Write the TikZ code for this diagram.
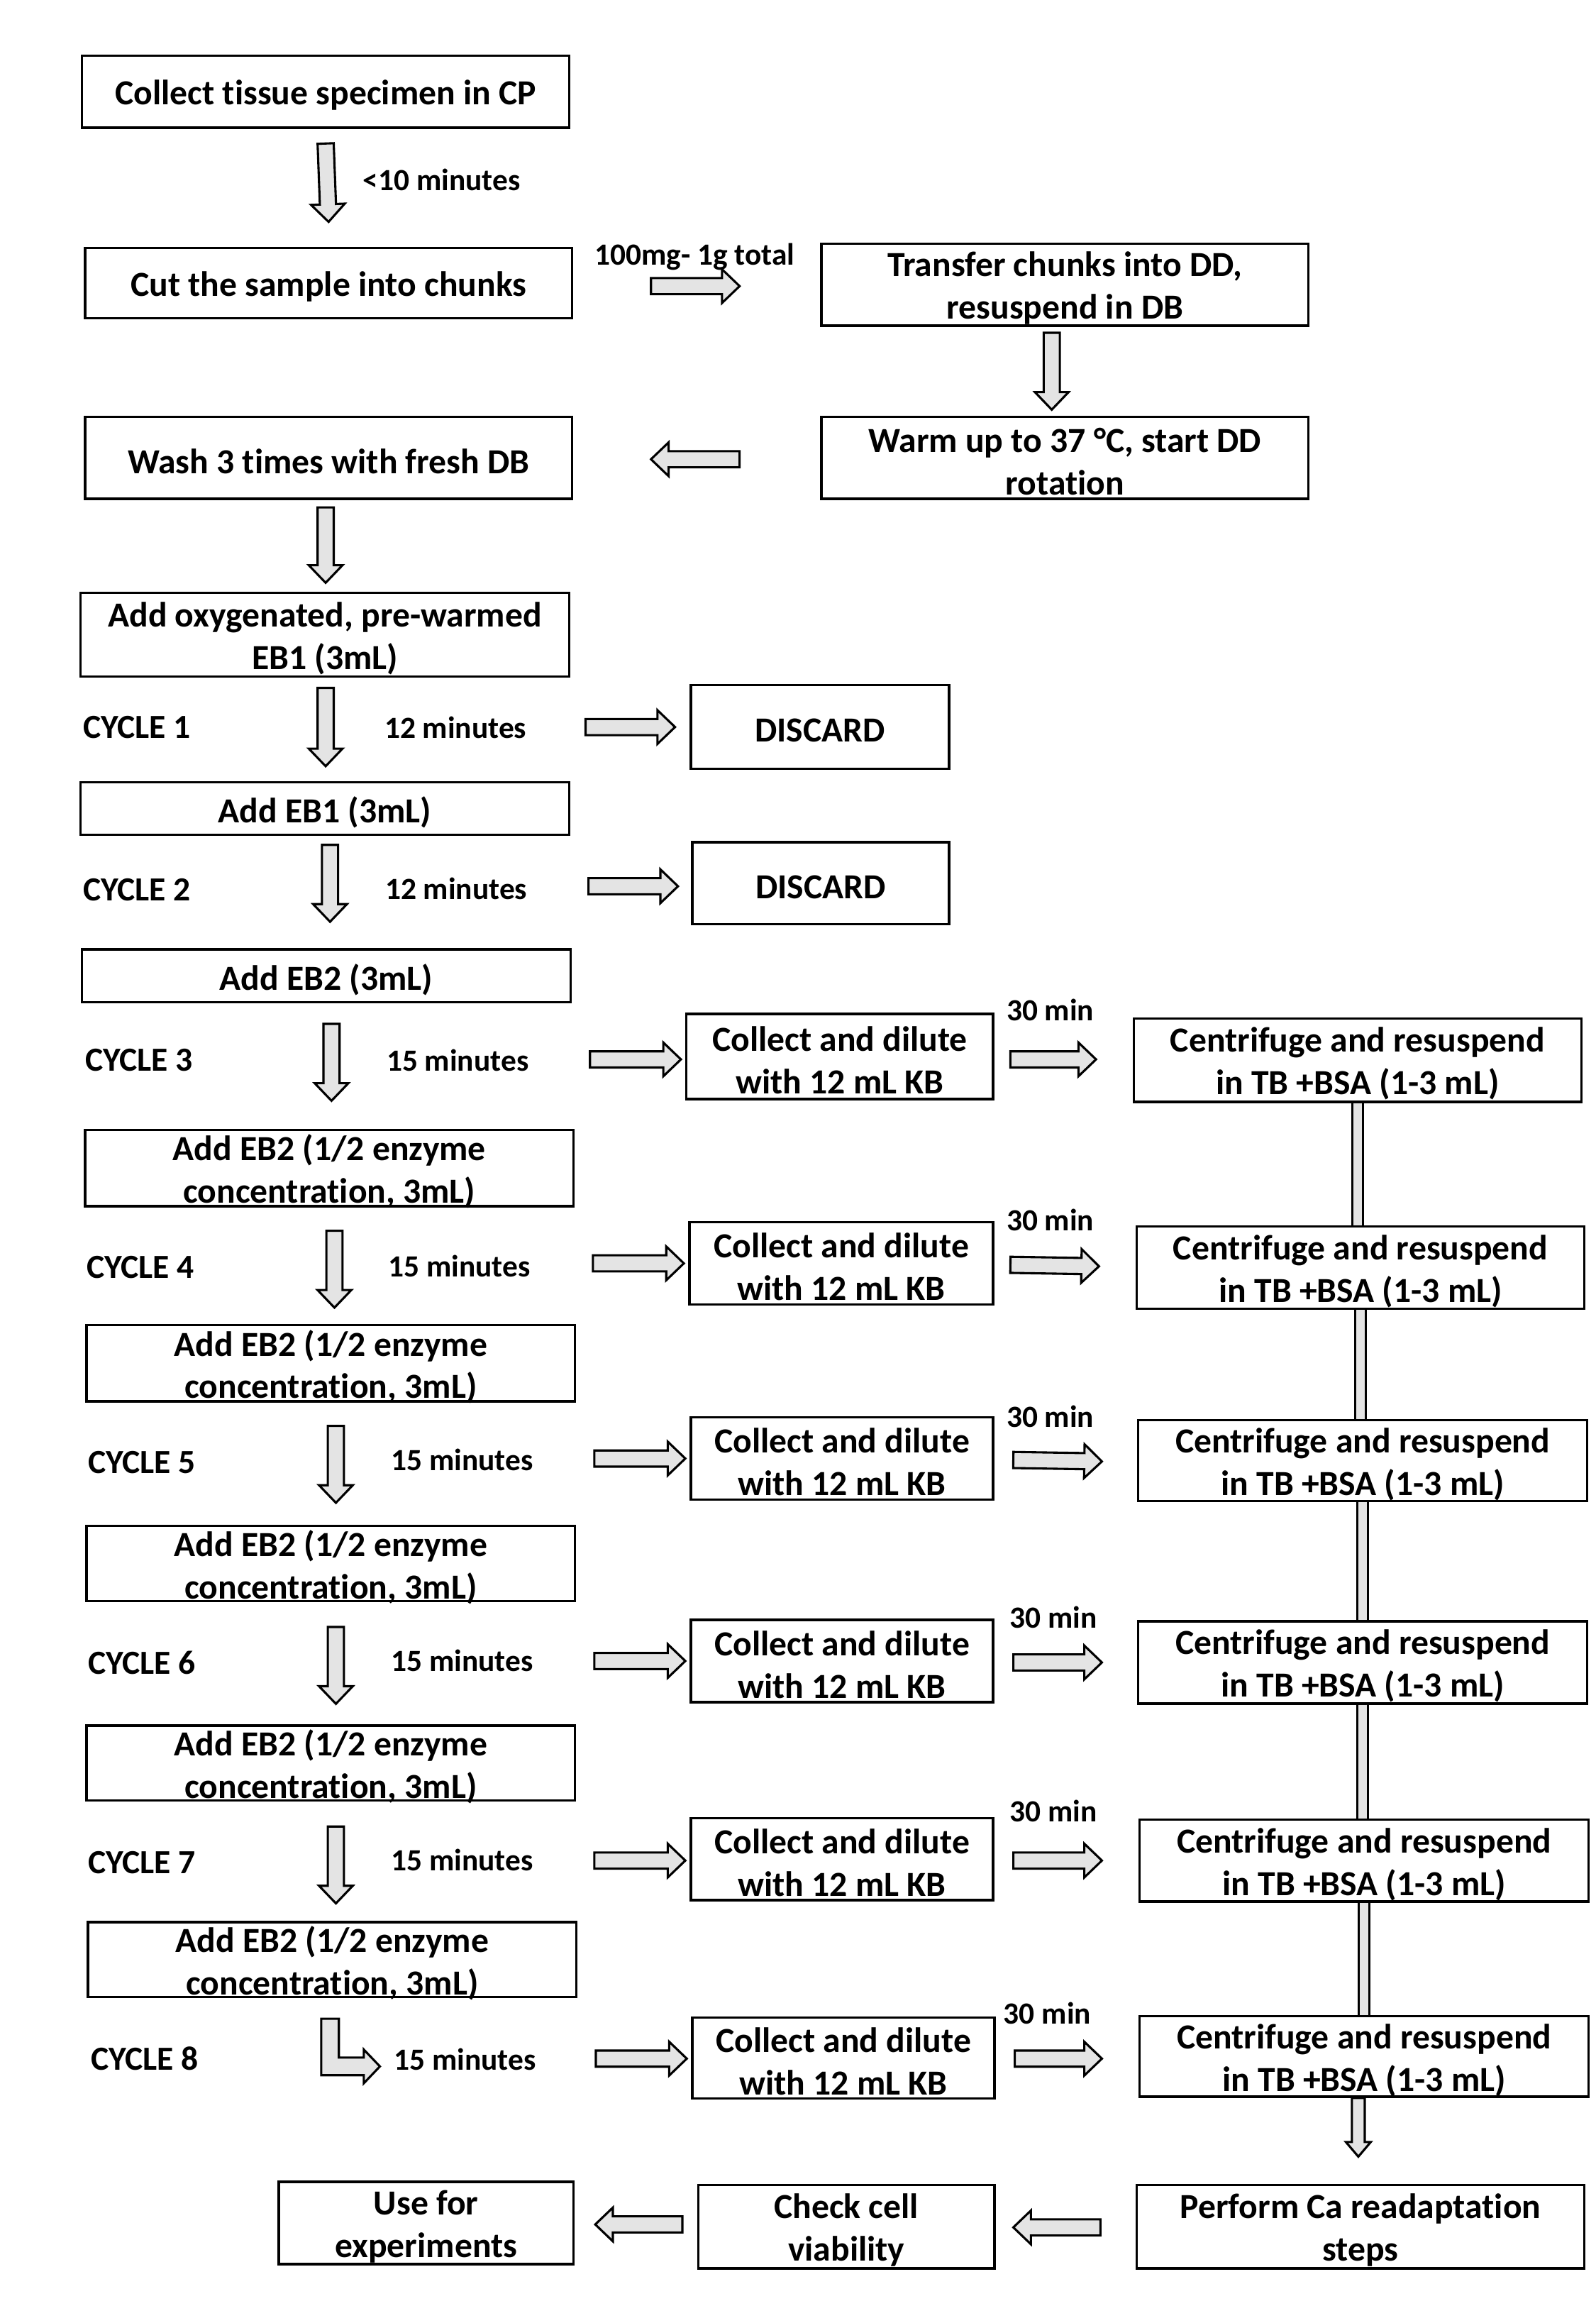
\documentclass[tikz,border=0pt]{standalone}
\usepackage{fontspec}
\setmainfont{Carlito}[Ligatures=NoCommon]
\usetikzlibrary{calc}
\definecolor{arrfill}{HTML}{E4E4E4}
\tikzset{
  box/.style={draw, line width=1.6pt, rectangle, inner sep=0pt},
  boxtext/.style={align=center, inner sep=0pt, font=\bfseries\fontsize{24}{29}\selectfont},
  lbl/.style={inner sep=0pt, anchor=base, font=\bfseries\fontsize{21}{25}\selectfont},
  cyc/.style={inner sep=0pt, anchor=base west, font=\bfseries\fontsize{23}{27}\selectfont},
  barr/.style={draw, line width=1.5pt, fill=arrfill, line join=miter},
  vbar/.style={draw, line width=1.4pt, double=arrfill, double distance=6pt},
}
\newcommand\bx[6]{\node[box, minimum width={#4-#2}, minimum height={#5-#3}] (#1) at ({(#2+#4)/2},{(#3+#5)/2}) {};
  \node[boxtext] (#1-t) at ($(#1.center)+(0,2.5)$) {#6};}
\def\sw{5.5pt}\def\hw{11.5pt}\def\hl{12pt}
\newcommand\blk[3][]{%
  \coordinate (bs) at #2; \coordinate (be) at #3;
  \coordinate (bh) at ($(be)!\hl!(bs)$);
  \draw[barr,#1] ($(bs)!\sw!90:(be)$) -- ($(bh)!\sw!-90:(bs)$) -- ($(bh)!\hw!-90:(bs)$) -- (be)
    -- ($(bh)!\hw!90:(bs)$) -- ($(bh)!\sw!90:(bs)$) -- ($(bs)!\sw!-90:(be)$) -- cycle;}
\begin{document}
\begin{tikzpicture}[x=1pt,y=-1pt]
\useasboundingbox[fill=white] (0,0) rectangle (1088,1571.6);
% boxes
\bx{c1}{56}{38}{388}{87}{Collect tissue specimen in CP}
\bx{c2}{58}{169}{390}{217}{Cut the sample into chunks}
\bx{t1}{560}{166}{892}{222}{Transfer chunks into DD,\\resuspend in DB}
\bx{t2}{560}{284}{892}{340}{Warm up to 37 °C, start DD\\rotation}
\bx{w1}{58}{284}{390}{340}{Wash 3 times with fresh DB}
\bx{e1}{55}{404}{388}{461}{Add oxygenated, pre-warmed\\EB1 (3mL)}
\bx{d1}{471}{467}{647}{524}{DISCARD}
\bx{e2}{55}{533}{388}{569}{Add EB1 (3mL)}
\bx{d2}{472}{574}{647}{630}{DISCARD}
\bx{e3}{56}{647}{389}{683}{Add EB2 (3mL)}
\bx{k3}{468}{691}{677}{749}{Collect and dilute\\with 12 mL KB}
\bx{r3}{773}{694}{1078}{751}{Centrifuge and resuspend\\in TB +BSA (1-3 mL)}
\bx{e4}{58}{770}{391}{822}{Add EB2 (1/2 enzyme\\concentration, 3mL)}
\bx{k4}{470}{833}{677}{889}{Collect and dilute\\with 12 mL KB}
\bx{r4}{775}{836}{1080}{892}{Centrifuge and resuspend\\in TB +BSA (1-3 mL)}
\bx{e5}{59}{903}{392}{955}{Add EB2 (1/2 enzyme\\concentration, 3mL)}
\bx{k5}{471}{966}{677}{1022}{Collect and dilute\\with 12 mL KB}
\bx{r5}{776}{968}{1082}{1023}{Centrifuge and resuspend\\in TB +BSA (1-3 mL)}
\bx{e6}{59}{1040}{392}{1091}{Add EB2 (1/2 enzyme\\concentration, 3mL)}
\bx{k6}{471}{1104}{677}{1160}{Collect and dilute\\with 12 mL KB}
\bx{r6}{776}{1105}{1082}{1161}{Centrifuge and resuspend\\in TB +BSA (1-3 mL)}
\bx{e7}{59}{1176}{392}{1227}{Add EB2 (1/2 enzyme\\concentration, 3mL)}
\bx{k7}{471}{1239}{677}{1295}{Collect and dilute\\with 12 mL KB}
\bx{r7}{777}{1240}{1083}{1296}{Centrifuge and resuspend\\in TB +BSA (1-3 mL)}
\bx{e8}{60}{1310}{393}{1361}{Add EB2 (1/2 enzyme\\concentration, 3mL)}
\bx{k8}{472}{1375}{678}{1430}{Collect and dilute\\with 12 mL KB}
\bx{r8}{777}{1374}{1083}{1429}{Centrifuge and resuspend\\in TB +BSA (1-3 mL)}
\bx{u}{190}{1487}{391}{1543}{Use for\\experiments}
\bx{v}{476}{1489}{678}{1546}{Check cell\\viability}
\bx{p}{775}{1489}{1080}{1546}{Perform Ca readaptation\\steps}
% labels
\node[lbl] (l0) at (301,130) {<10 minutes};
\node[lbl] (l00) at (473.5,180.5) {100mg- 1g total};
\node[cyc] (cy1) at (56.5,503) {CYCLE 1};
\node[cyc] (cy2) at (56.5,614) {CYCLE 2};
\node[cyc] (cy3) at (58,730) {CYCLE 3};
\node[cyc] (cy4) at (59,871) {CYCLE 4};
\node[cyc] (cy5) at (60,1004) {CYCLE 5};
\node[cyc] (cy6) at (60,1141) {CYCLE 6};
\node[cyc] (cy7) at (60,1277) {CYCLE 7};
\node[cyc] (cy8) at (62,1411) {CYCLE 8};
\node[lbl] (m1) at (310.5,503) {12 minutes};
\node[lbl] (m2) at (311,613) {12 minutes};
\node[lbl] (m3) at (312,730) {15 minutes};
\node[lbl] (m4) at (313,870) {15 minutes};
\node[lbl] (m5) at (315,1002) {15 minutes};
\node[lbl] (m6) at (315,1139) {15 minutes};
\node[lbl] (m7) at (315,1275) {15 minutes};
\node[lbl] (m8) at (317,1411) {15 minutes};
\node[lbl] (n3) at (716,695.5) {30 min};
\node[lbl] (n4) at (716,838.5) {30 min};
\node[lbl] (n5) at (716,972.5) {30 min};
\node[lbl] (n6) at (718,1109.5) {30 min};
\node[lbl] (n7) at (718,1241.5) {30 min};
\node[lbl] (n8) at (714,1379.5) {30 min};
% top arrows
\blk{($(c1.south)+(0,10)$)}{($(c2.north)+(0,-17)$)}
\blk{($(c2.east)+(53,2)$)}{($(t1.west)+(-55,1)$)}
\blk{($(t1.south)+(-9,4)$)}{($(t2.north)+(-9,-4)$)}
\blk{($(t2.west)+(-55,1)$)}{($(w1.east)+(53,1)$)}
\blk{($(w1.south)+(-2,5)$)}{($(e1.north)+(0.5,-6)$)}
% cycle 1-2
\blk{($(e1.south)+(0.5,7)$)}{($(e2.north)+(0.5,-10)$)}
\blk{($(d1.west)+(-71,0)$)}{($(d1.west)+(-10,0)$)}
\blk{($(e2.south)+(3.5,6)$)}{($(e3.north)+(2.5,-18)$)}
\blk{($(d2.west)+(-70,2)$)}{($(d2.west)+(-9,2)$)}
% cycle 3
\blk{($(e3.south)+(3.5,14)$)}{($(e4.north)+(1.5,-19)$)}
\blk{($(k3.west)+(-65,2)$)}{($(k3.west)+(-3,2)$)}
\blk{($(k3.east)+(11,2)$)}{($(r3.west)+(-25,-0.5)$)}
% cycle 4
\blk{($(e4.south)+(3.5,16)$)}{($(e5.north)+(2.5,-11)$)}
\blk{($(k4.west)+(-65,0)$)}{($(k4.west)+(-3,0)$)}
\blk{($(k4.east)+(11,1)$)}{($(r4.west)+(-25,-1)$)}
% cycle 5
\blk{($(e5.south)+(3.5,16)$)}{($(e6.north)+(3.5,-15)$)}
\blk{($(k5.west)+(-65,0)$)}{($(k5.west)+(-3,0)$)}
\blk{($(k5.east)+(13,1)$)}{($(r5.west)+(-24,0.5)$)}
% cycle 6
\blk{($(e6.south)+(3.5,17)$)}{($(e7.north)+(3.5,-14)$)}
\blk{($(k6.west)+(-65,0)$)}{($(k6.west)+(-3,0)$)}
\blk{($(k6.east)+(13,1)$)}{($(r6.west)+(-24,0)$)}
% cycle 7
\blk{($(e7.south)+(3.5,17)$)}{($(e8.north)+(2.5,-12)$)}
\blk{($(k7.west)+(-65,1)$)}{($(k7.west)+(-3,1)$)}
\blk{($(k7.east)+(13,1)$)}{($(r7.west)+(-25,0)$)}
% cycle 8 bent arrow
\coordinate (bt) at ($(e8.south)+(-1.5,14)$);
\draw[barr, shift={(bt)}] (-6,0) -- (6,0) -- (6,26.5) -- (23,26.5) -- (23,21) -- (34,32.5)
  -- (23,44) -- (23,38.5) -- (-6,38.5) -- cycle;
\blk{($(k8.west)+(-65,0.5)$)}{($(k8.west)+(-3,0.5)$)}
\blk{($(k8.east)+(13,0.5)$)}{($(r8.west)+(-25,1.5)$)}
% centrifuge column
\draw[vbar] (r3.south) -- (r3.south |- r4.north);
\draw[vbar] (r4.south) -- (r4.south |- r5.north);
\draw[vbar] (r5.south) -- (r5.south |- r6.north);
\draw[vbar] (r6.south) -- (r6.south |- r7.north);
\draw[vbar] (r7.south) -- (r7.south |- r8.north);
{\def\sw{4.4pt}\def\hw{8.5pt}\def\hl{10pt}
 \blk{($(r8.south)+(-4,0)$)}{($(r8.south)+(-4,40)$)}}
% bottom row
\blk{($(p.west)+(-24,0.5)$)}{($(v.east)+(12,0.5)$)}
\blk{($(v.west)+(-10,-1.5)$)}{($(u.east)+(14,1)$)}
\end{tikzpicture}
\end{document}
